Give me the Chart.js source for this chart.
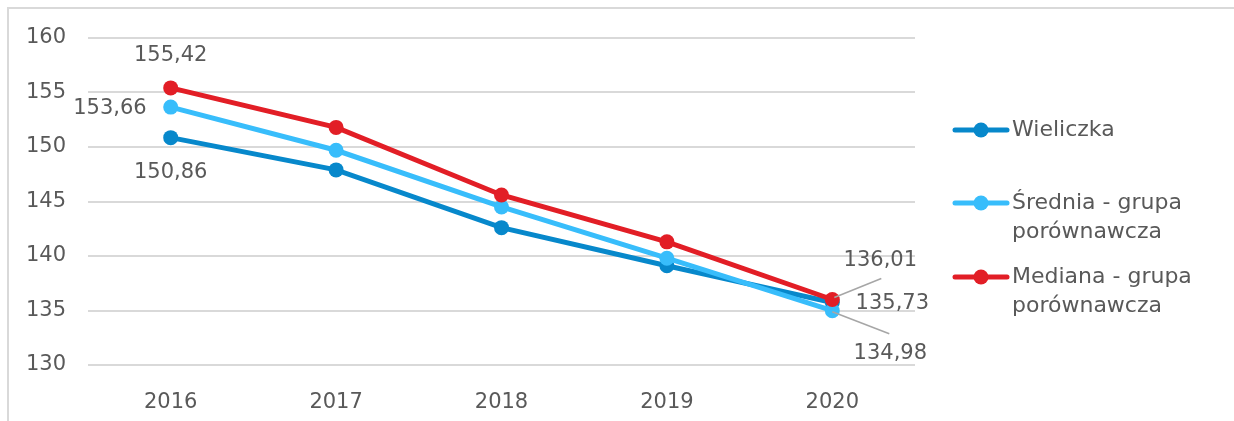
<!DOCTYPE html>
<html>
<head>
<meta charset="utf-8">
<script src="https://cdn.jsdelivr.net/npm/chart.js@4"></script>
<style>
  html, body { margin: 0; padding: 0; background: #fff; overflow: hidden; }
  #wrap { position: relative; width: 1234px; height: 421px; }
</style>
</head>
<body>
<div id="wrap"><canvas id="lineChart"></canvas></div>
<script>
// chart data
const years = ["2016", "2017", "2018", "2019", "2020"];
const seriesNames = ["Wieliczka", "Średnia - grupa porównawcza", "Mediana - grupa porównawcza"];
const wieliczka = [150.86, 147.9, 142.6, 139.1, 135.73];
const srednia = [153.66, 149.7, 144.5, 139.8, 134.98];
const mediana = [155.42, 151.8, 145.6, 141.3, 136.01];
const yTicks = [130, 135, 140, 145, 150, 155, 160];

const colors = ["#0788CB", "#38BDFB", "#E21E26"];
const textColor = "#595959";
const fontFamily = "'DejaVu Sans', sans-serif";

// label placement for first/last points (dx, dy, align, leader line)
const labelStyle = [
    { 0: { dx: 0, dy: 35, align: "center" }, 4: { dx: 60, dy: 1, align: "center" } },
    { 0: { dx: -24, dy: 1, align: "right" }, 4: { dx: 58, dy: 43, align: "center", leader: [0, 1, 57, 23] } },
    { 0: { dx: 0, dy: -32, align: "center" }, 4: { dx: 48, dy: -39, align: "center", leader: [2, -2, 49, -21] } }
];

const fmt = v => v.toFixed(2).replace(".", ",");

const dataLabels = {
    id: "dataLabels",
    afterDatasetsDraw(chart) {
        const ctx = chart.ctx;
        ctx.save();
        ctx.font = "21px " + fontFamily;
        ctx.fillStyle = textColor;
        ctx.textBaseline = "middle";
        chart.data.datasets.forEach((ds, di) => {
            const meta = chart.getDatasetMeta(di);
            Object.keys(labelStyle[di]).forEach(k => {
                const s = labelStyle[di][k];
                const pt = meta.data[k];
                if (s.leader) {
                    ctx.strokeStyle = "#a6a6a6";
                    ctx.lineWidth = 1.5;
                    ctx.beginPath();
                    ctx.moveTo(pt.x + s.leader[0], pt.y + s.leader[1]);
                    ctx.lineTo(pt.x + s.leader[2], pt.y + s.leader[3]);
                    ctx.stroke();
                }
                ctx.textAlign = s.align;
                ctx.fillText(fmt(ds.data[k]), pt.x + s.dx, pt.y + s.dy);
            });
        });
        ctx.restore();
    }
};

// legend with wrapped text on the right
const sideLegend = {
    id: "sideLegend",
    afterDraw(chart) {
        const ctx = chart.ctx;
        const rows = [130, 203, 277];
        ctx.save();
        ctx.font = "22px " + fontFamily;
        ctx.textBaseline = "middle";
        ctx.textAlign = "left";
        seriesNames.forEach((name, i) => {
            const y = rows[i];
            ctx.strokeStyle = colors[i];
            ctx.lineWidth = 5;
            ctx.lineCap = "round";
            ctx.beginPath();
            ctx.moveTo(955, y);
            ctx.lineTo(1007, y);
            ctx.stroke();
            ctx.fillStyle = colors[i];
            ctx.beginPath();
            ctx.arc(981, y, 7.5, 0, Math.PI * 2);
            ctx.fill();
            ctx.fillStyle = textColor;
            const parts = name.indexOf(" - grupa ") > 0
                ? [name.slice(0, name.indexOf(" porównawcza")), "porównawcza"]
                : [name];
            parts.forEach((line, j) => ctx.fillText(line, 1012, y + j * 29));
        });
        ctx.restore();
    }
};

const frame = {
    id: "frame",
    beforeDraw(chart) {
        const ctx = chart.ctx;
        ctx.save();
        ctx.strokeStyle = "#d9d9d9";
        ctx.lineWidth = 2;
        ctx.beginPath();
        ctx.moveTo(8, 421);
        ctx.lineTo(8, 8);
        ctx.lineTo(1240, 8);
        ctx.stroke();
        ctx.restore();
    }
};

const series = [wieliczka, srednia, mediana];

new Chart(document.getElementById("lineChart"), {
    type: "line",
    data: {
        labels: years,
        datasets: series.map((d, i) => ({
            label: seriesNames[i],
            data: d,
            borderColor: colors[i],
            backgroundColor: colors[i],
            borderWidth: 5,
            pointRadius: 7.5,
            pointHoverRadius: 7.5,
            pointBorderWidth: 0,
            tension: 0,
            order: 2 - i
        }))
    },
    options: {
        responsive: true,
        maintainAspectRatio: false,
        animation: false,
        layout: { padding: { left: 8, right: 319, top: 38, bottom: 0 } },
        plugins: {
            legend: { display: false },
            tooltip: { enabled: false }
        },
        scales: {
            x: {
                offset: true,
                grid: { display: false },
                border: { display: false },
                ticks: { color: textColor, font: { family: fontFamily, size: 21 }, padding: 17 },
                afterFit(scale) { scale.height = 56; }
            },
            y: {
                min: 130,
                max: 160,
                afterBuildTicks(scale) { scale.ticks = yTicks.map(v => ({ value: v })); },
                grid: { color: "#d9d9d9", lineWidth: 2, drawTicks: false },
                border: { display: false },
                ticks: { color: textColor, font: { family: fontFamily, size: 21 }, padding: 22 },
                afterFit(scale) { scale.width = 80; }
            }
        }
    },
    plugins: [frame, dataLabels, sideLegend]
});
</script>
</body>
</html>
